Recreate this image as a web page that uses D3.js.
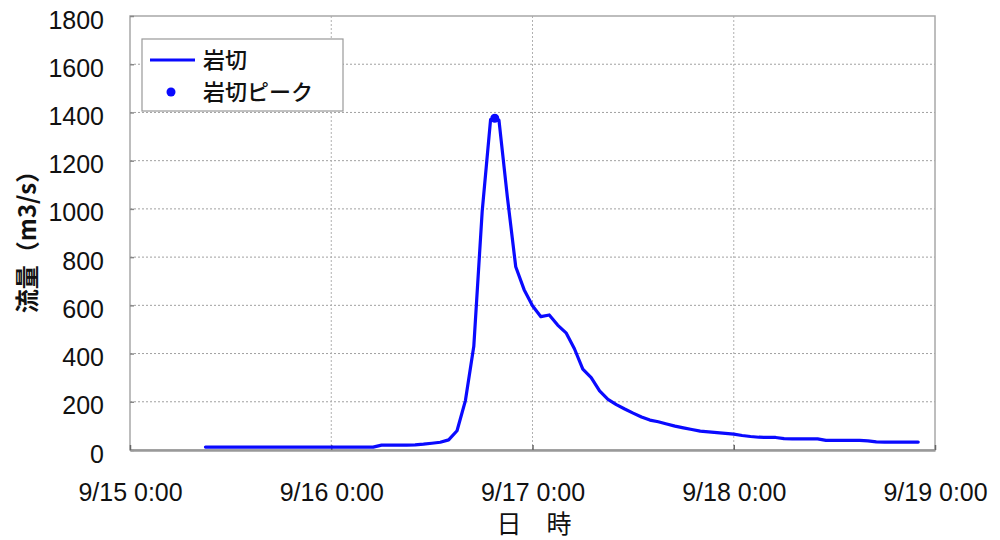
<!DOCTYPE html>
<html lang="ja">
<head>
<meta charset="UTF-8">
<script src="https://d3js.org/d3.v7.min.js"></script>
<style>
  body { margin: 0; background: #fff; }
  .tick text { font-family: "Liberation Sans", Arial, sans-serif; font-size: 25px; fill: #111; }
  .jp { font-family: "Noto Sans CJK JP", sans-serif; fill: #111; }
</style>
</head>
<body>
<svg id="chart" width="1000" height="540"></svg>
<script>
// hours since 9/15 0:00, hourly flow (m3/s) at Iwakiri
const hours = d3.range(9, 95);
const flows = [
  12, 12, 12, 12, 12, 12, 12, 12, 12, 12, 12, 12, 12, 12, 12, 12, 12, 12, 12, 12, 12, // 9-29
  20, 20, 20, 20, 21, 24, 28, 32, 42, 80,                                            // 30-39
  205, 430, 990, 1370, 1368, 1050, 760, 665, 598, 553,                               // 40-49
  560, 518, 486, 420, 335, 300, 245, 210, 188, 170,                                  // 50-59
  153, 137, 124, 117, 108, 99, 92, 85, 78, 75,                                       // 60-69
  72, 69, 66, 60, 56, 53, 52, 52, 47, 46,                                            // 70-79
  46, 46, 46, 40, 40, 40, 40, 40, 38, 34,                                            // 80-89
  33, 33, 33, 33, 33                                                                 // 90-94
];
const peakHour = [43.5];
const peakFlow = [1376];

const xTickHours = [0, 24, 48, 72, 96];
const xTickLabels = ["9/15 0:00", "9/16 0:00", "9/17 0:00", "9/18 0:00", "9/19 0:00"];
const yTicks = d3.range(0, 1801, 200);
const seriesNames = ["岩切", "岩切ピーク"];

const mLeft = 130, mRight = 935, mTop = 16, mBottom = 450;
const svg = d3.select("#chart");

const x = d3.scaleLinear().domain([0, 96]).range([mLeft, mRight]);
const y = d3.scaleLinear().domain([0, 1800]).range([mBottom, mTop]);

// grid
svg.append("g").selectAll("line")
  .data(yTicks.slice(1, -1)).enter().append("line")
  .attr("x1", mLeft).attr("x2", mRight)
  .attr("y1", d => y(d)).attr("y2", d => y(d))
  .attr("stroke", "#a0a0a0").attr("stroke-dasharray", "2,2");
svg.append("g").selectAll("line")
  .data(xTickHours.slice(1, -1)).enter().append("line")
  .attr("x1", d => x(d)).attr("x2", d => x(d))
  .attr("y1", mTop).attr("y2", mBottom)
  .attr("stroke", "#b0b0b0").attr("stroke-dasharray", "2,2");

// frame
svg.append("rect")
  .attr("x", mLeft).attr("y", mTop)
  .attr("width", mRight - mLeft).attr("height", mBottom - mTop)
  .attr("fill", "none").attr("stroke", "#a8a8a8").attr("stroke-width", 1.5);

// axes
const yAxis = svg.append("g")
  .attr("transform", `translate(${mLeft},0)`)
  .call(d3.axisLeft(y).tickValues(yTicks).tickFormat(d3.format("d"))
    .tickSizeInner(-4).tickSizeOuter(0).tickPadding(26));
yAxis.select(".domain").remove();
yAxis.selectAll(".tick line").attr("stroke", "#888").attr("stroke-width", 1.5);
yAxis.selectAll(".tick text").attr("y", 4);

const xAxis = svg.append("g")
  .attr("transform", `translate(0,${mBottom})`)
  .call(d3.axisBottom(x).tickValues(xTickHours)
    .tickFormat((d, i) => xTickLabels[i])
    .tickSizeInner(-5).tickSizeOuter(0).tickPadding(33));
xAxis.select(".domain").attr("stroke", "#999").attr("stroke-width", 2.5);
xAxis.selectAll(".tick line").attr("stroke", "#666").attr("stroke-width", 1.5);

// series
const line = d3.line()
  .x((d, i) => x(hours[i]))
  .y(d => y(d));
svg.append("path")
  .datum(flows)
  .attr("d", line)
  .attr("fill", "none")
  .attr("stroke", "#0a0aff")
  .attr("stroke-width", 3.2)
  .attr("stroke-linejoin", "round")
  .attr("stroke-linecap", "round");

svg.selectAll(".peak")
  .data(peakFlow).enter().append("circle")
  .attr("class", "peak")
  .attr("cx", (d, i) => x(peakHour[i]))
  .attr("cy", d => y(d))
  .attr("r", 4.5)
  .attr("fill", "#0a0aff");

// axis titles
svg.append("text")
  .attr("class", "jp")
  .attr("transform", "translate(36,236) rotate(-90)")
  .attr("text-anchor", "middle")
  .attr("font-size", 24)
  .attr("font-weight", "bold")
  .text("流量（m3/s）");

svg.append("text")
  .attr("class", "jp")
  .attr("x", 534).attr("y", 533)
  .attr("text-anchor", "middle")
  .attr("font-size", 25)
  .text("日　時");

// legend
const legend = svg.append("g");
legend.append("rect")
  .attr("x", 142).attr("y", 39).attr("width", 201).attr("height", 72)
  .attr("fill", "#fff").attr("stroke", "#999").attr("stroke-width", 1.2);
legend.append("line")
  .attr("x1", 150).attr("x2", 195).attr("y1", 60).attr("y2", 60)
  .attr("stroke", "#0a0aff").attr("stroke-width", 3.2);
legend.append("circle")
  .attr("cx", 171).attr("cy", 92).attr("r", 4.5).attr("fill", "#0a0aff");
legend.selectAll("text")
  .data(seriesNames).enter().append("text")
  .attr("class", "jp")
  .attr("x", 203)
  .attr("y", (d, i) => 60 + i * 32)
  .attr("dy", "0.36em")
  .attr("font-size", 22)
  .attr("font-weight", 500)
  .text(d => d);
</script>
</body>
</html>
